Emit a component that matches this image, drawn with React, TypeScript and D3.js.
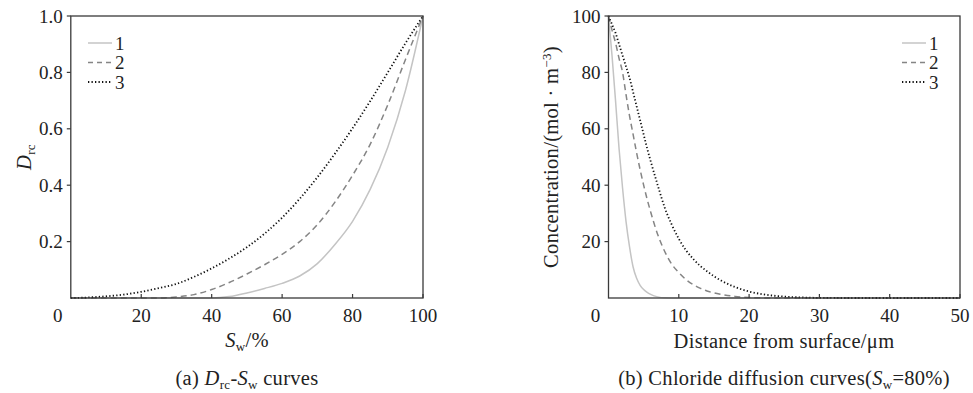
import React from "react";
import * as d3 from "d3";

// ---- data: (a) Drc vs Sw ----
const swValues = [0, 5, 10, 15, 20, 25, 30, 35, 40, 45, 50, 55, 60, 65, 70, 75, 80, 85, 90, 95, 100];
const drc1 = [0, 0, 0, 0, 0, 0, 0, 0, 0, 0.005, 0.018, 0.034, 0.052, 0.078, 0.122, 0.19, 0.272, 0.385, 0.535, 0.735, 1.0];
const drc2 = [0, 0, 0, 0, 0, 0, 0.004, 0.012, 0.03, 0.055, 0.085, 0.118, 0.155, 0.2, 0.26, 0.34, 0.435, 0.545, 0.685, 0.845, 1.0];
const drc3 = [0, 0.002, 0.006, 0.012, 0.022, 0.035, 0.05, 0.075, 0.105, 0.14, 0.18, 0.228, 0.285, 0.352, 0.428, 0.512, 0.602, 0.698, 0.8, 0.903, 1.0];
const swTicks = [20, 40, 60, 80, 100];
const drcTicks = [0.2, 0.4, 0.6, 0.8, 1.0];

// ---- data: (b) chloride concentration vs distance ----
const distValues = [0, 0.5, 1, 1.5, 2, 2.5, 3, 3.5, 4, 4.5, 5, 5.5, 6, 7, 8, 9, 10, 11, 12, 13, 14, 15, 16, 18, 20, 22, 24, 26, 28, 30, 35, 40, 50];
const conc1 = [100, 86, 70, 53, 39, 27, 18, 11, 7, 4.5, 3, 2, 1.3, 0.4, 0.05, 0, 0, 0, 0, 0, 0, 0, 0, 0, 0, 0, 0, 0, 0, 0, 0, 0, 0];
const conc2 = [100, 95, 90.5, 85, 80, 72, 64.5, 58, 51.5, 45.5, 40, 35, 30.5, 22.5, 16.5, 12, 9, 6.6, 4.8, 3.5, 2.5, 1.8, 1.3, 0.55, 0.18, 0.04, 0, 0, 0, 0, 0, 0, 0];
const conc3 = [100, 97, 94, 90, 86, 82, 78, 73, 68, 63, 58, 53, 48.5, 40, 32, 26, 21, 17, 14, 11.5, 9.5, 7.7, 6.2, 3.9, 2.3, 1.3, 0.7, 0.35, 0.15, 0.05, 0, 0, 0];
const distTicks = [10, 20, 30, 40, 50];
const concTicks = [20, 40, 60, 80, 100];

const legendLabels = ["1", "2", "3"];

const FONT = "'Liberation Serif', 'Times New Roman', serif";
const TICK_FS = 19;
const TITLE_FS = 20.5;
const SUB_FS = 13;
const LS = 0.3;

const styles = [
  { stroke: "#c4c4c4", dash: undefined as string | undefined, width: 1.5 },
  { stroke: "#858585", dash: "6,4", width: 1.5 },
  { stroke: "#111", dash: "1.3,2.2", width: 1.8 },
];

type PanelProps = {
  left: number;
  right: number;
  xDomain: [number, number];
  yDomain: [number, number];
  xs: number[];
  series: number[][];
  xTicks: number[];
  yTicks: number[];
  yFmt: (v: number) => string;
  legendX: number;
};

const TOP = 16;
const BOTTOM = 298;

function Panel(p: PanelProps) {
  const x = d3.scaleLinear().domain(p.xDomain).range([p.left, p.right]);
  const y = d3.scaleLinear().domain(p.yDomain).range([BOTTOM, TOP]);
  const line = d3
    .line<number>()
    .x((_, i) => x(p.xs[i]))
    .y((d) => y(d))
    .curve(d3.curveMonotoneX);

  return (
    <g>
      {p.series.map((s, i) => (
        <path
          key={i}
          d={line(s) || ""}
          fill="none"
          stroke={styles[i].stroke}
          strokeWidth={styles[i].width}
          strokeDasharray={styles[i].dash}
        />
      ))}
      <rect
        x={p.left}
        y={TOP}
        width={p.right - p.left}
        height={BOTTOM - TOP}
        fill="none"
        stroke="#3a3a3a"
        strokeWidth={1.3}
      />
      {p.yTicks.map((t) => (
        <g key={"y" + t}>
          <line x1={p.left - 4} x2={p.left} y1={y(t)} y2={y(t)} stroke="#3a3a3a" strokeWidth={1.2} />
          <text x={p.left - 8} y={y(t)} dy="0.35em" textAnchor="end" fontSize={TICK_FS} fontFamily={FONT} fill="#222">
            {p.yFmt(t)}
          </text>
        </g>
      ))}
      {p.xTicks.map((t) => (
        <g key={"x" + t}>
          <line x1={x(t)} x2={x(t)} y1={BOTTOM} y2={BOTTOM - 4} stroke="#3a3a3a" strokeWidth={1.2} />
          <text x={x(t)} y={BOTTOM + 24} textAnchor="middle" fontSize={TICK_FS} fontFamily={FONT} fill="#222">
            {t}
          </text>
        </g>
      ))}
      <text x={p.left - 13} y={BOTTOM + 24} textAnchor="middle" fontSize={TICK_FS} fontFamily={FONT} fill="#222">
        0
      </text>
      {legendLabels.map((l, i) => {
        const ly = 43 + i * 19.5;
        return (
          <g key={"l" + l}>
            <line
              x1={p.legendX}
              x2={p.legendX + 24}
              y1={ly}
              y2={ly}
              stroke={styles[i].stroke}
              strokeWidth={styles[i].width}
              strokeDasharray={i === 1 ? "5,4" : styles[i].dash}
            />
            <text x={p.legendX + 27} y={ly} dy="0.35em" fontSize={TICK_FS} fontFamily={FONT} fill="#222">
              {l}
            </text>
          </g>
        );
      })}
    </g>
  );
}

export default function App() {
  const titleProps = { fontSize: TITLE_FS, fontFamily: FONT, fill: "#222", letterSpacing: LS };
  return (
    <div style={{ position: "absolute", left: 0, top: 0 }}>
      <svg width={973} height={393} style={{ display: "block", background: "#fff" }}>
        <Panel
          left={70.8}
          right={423}
          xDomain={[0, 100]}
          yDomain={[0, 1]}
          xs={swValues}
          series={[drc1, drc2, drc3]}
          xTicks={swTicks}
          yTicks={drcTicks}
          yFmt={(v) => v.toFixed(1)}
          legendX={88}
        />
        <Panel
          left={608.5}
          right={960}
          xDomain={[0, 50]}
          yDomain={[0, 100]}
          xs={distValues}
          series={[conc1, conc2, conc3]}
          xTicks={distTicks}
          yTicks={concTicks}
          yFmt={(v) => String(v)}
          legendX={902}
        />

        {/* axis titles (a) */}
        <text transform="translate(31,157) rotate(-90)" textAnchor="middle" {...titleProps}>
          <tspan fontStyle="italic">D</tspan>
          <tspan fontSize={SUB_FS} dy={4}>rc</tspan>
        </text>
        <text x={247} y={347} textAnchor="middle" {...titleProps}>
          <tspan fontStyle="italic">S</tspan>
          <tspan fontSize={SUB_FS} dy={4}>w</tspan>
          <tspan dy={-4}>/%</tspan>
        </text>
        <text x={247} y={385} textAnchor="middle" {...titleProps}>
          (a) <tspan fontStyle="italic">D</tspan>
          <tspan fontSize={SUB_FS} dy={4}>rc</tspan>
          <tspan dy={-4}>-</tspan>
          <tspan fontStyle="italic">S</tspan>
          <tspan fontSize={SUB_FS} dy={4}>w</tspan>
          <tspan dy={-4}> curves</tspan>
        </text>

        {/* axis titles (b) */}
        <text transform="translate(558,157) rotate(-90)" textAnchor="middle" {...titleProps}>
          Concentration/(mol · m
          <tspan fontSize={SUB_FS} dy={-7}>−3</tspan>
          <tspan dy={7}>)</tspan>
        </text>
        <text x={784} y={348} textAnchor="middle" {...titleProps}>
          Distance from surface/μm
        </text>
        <text x={784} y={385} textAnchor="middle" {...titleProps}>
          (b) Chloride diffusion curves(<tspan fontStyle="italic">S</tspan>
          <tspan fontSize={SUB_FS} dy={4}>w</tspan>
          <tspan dy={-4}>=80%)</tspan>
        </text>
      </svg>
    </div>
  );
}
